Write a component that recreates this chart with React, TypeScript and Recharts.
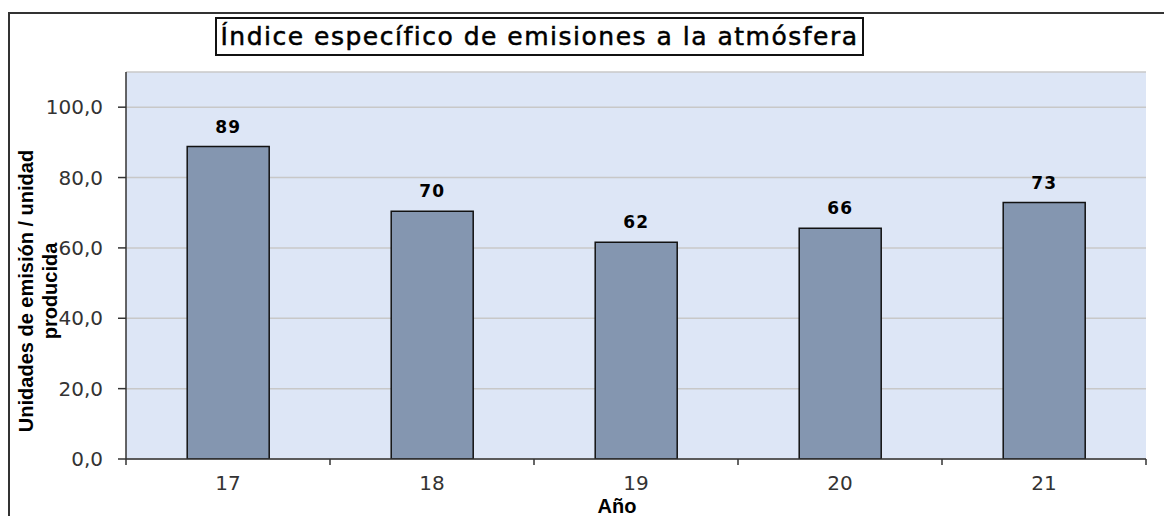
import React from 'react';
import { BarChart, Bar, XAxis, YAxis, CartesianGrid, LabelList } from 'recharts';

const years = ['17', '18', '19', '20', '21'];
const emissionIndex = [88.8, 70.4, 61.6, 65.6, 72.9];
const yTicks = [0, 20, 40, 60, 80, 100];

const chartTitle = 'Índice específico de emisiones a la atmósfera';
const yTitleLines = ['Unidades de emisión / unidad', 'producida'];
const xTitle = 'Año';

const W = 1164;
const H = 516;
const PLOT_LEFT = 126;
const PLOT_RIGHT = 1146;
const PLOT_TOP = 72;
const PLOT_BOTTOM = 459;
const Y_AXIS_W = 60;
const X_AXIS_H = 40;

const data = years.map((year, i) => ({ year, value: emissionIndex[i] }));

const axisColor = '#333';
const tickFont = { fill: '#333', fontSize: 20, fontFamily: 'DejaVu Sans' };

// Excel style: tick marks sit between categories, labels in the middle
const XTick = ({ x, payload, index }: any) => {
  const band = (PLOT_RIGHT - PLOT_LEFT) / years.length;
  return (
    <g>
      {index === 0 && (
        <line x1={x - band / 2} y1={PLOT_BOTTOM} x2={x - band / 2} y2={PLOT_BOTTOM + 6} stroke={axisColor} strokeWidth={1.5} />
      )}
      <line x1={x + band / 2} y1={PLOT_BOTTOM} x2={x + band / 2} y2={PLOT_BOTTOM + 6} stroke={axisColor} strokeWidth={1.5} />
      <text x={x} y={PLOT_BOTTOM + 31} textAnchor="middle" {...tickFont}>
        {payload.value}
      </text>
    </g>
  );
};

const App: React.FC = () => {
  return (
    <div style={{ position: 'absolute', left: 0, top: 0, width: W, height: H, overflow: 'hidden', background: '#fff' }}>
      <div
        style={{
          position: 'absolute',
          left: 8,
          top: 12,
          width: 1200,
          height: 600,
          border: '2px solid #333',
        }}
      />
      <div style={{ position: 'absolute', left: 0, top: 0 }}>
        <BarChart
          width={W}
          height={H}
          data={data}
          barCategoryGap="30%"
          margin={{ top: PLOT_TOP, right: W - PLOT_RIGHT, left: PLOT_LEFT - Y_AXIS_W, bottom: H - PLOT_BOTTOM - X_AXIS_H }}
        >
          <CartesianGrid vertical={false} fill="#dde6f6" stroke="#c8c8c8" strokeWidth={1.5} />
          <XAxis
            dataKey="year"
            height={X_AXIS_H}
            axisLine={{ stroke: axisColor, strokeWidth: 1.5 }}
            tickLine={false}
            tick={<XTick />}
            interval={0}
          />
          <YAxis
            width={Y_AXIS_W}
            domain={[0, 110]}
            ticks={yTicks}
            allowDataOverflow
            axisLine={{ stroke: axisColor, strokeWidth: 1.5 }}
            tickLine={{ stroke: axisColor, strokeWidth: 1.5 }}
            tickSize={8}
            tickMargin={15}
            tick={tickFont}
            tickFormatter={(v: number) => v.toFixed(1).replace('.', ',')}
          />
          <Bar dataKey="value" fill="#8496b0" stroke="#111" strokeWidth={1.5} isAnimationActive={false}>
            <LabelList
              dataKey="value"
              position="top"
              offset={14}
              formatter={(v: any) => Math.round(Number(v))}
              style={{ fontFamily: 'DejaVu Sans', fontWeight: 'bold', fontSize: 17, fill: '#000', letterSpacing: 1 }}
            />
          </Bar>
        </BarChart>
      </div>

      <div
        style={{
          position: 'absolute',
          left: 215,
          top: 17,
          width: 649,
          height: 39,
          boxSizing: 'border-box',
          border: '2px solid #111',
          background: '#fff',
          fontFamily: 'DejaVu Sans',
          fontSize: 25,
          letterSpacing: 1.5,
          WebkitTextStroke: '0.5px #000',
          lineHeight: '35px',
          textAlign: 'center',
          color: '#000',
          whiteSpace: 'nowrap',
        }}
      >
        {chartTitle}
      </div>

      <svg width={W} height={H} style={{ position: 'absolute', left: 0, top: 0, pointerEvents: 'none' }}>
        <text
          transform="translate(33 291) rotate(-90)"
          textAnchor="middle"
          fontFamily="Liberation Sans"
          fontWeight="bold"
          fontSize={20}
          fill="#000"
        >
          {yTitleLines[0]}
        </text>
        <text
          transform="translate(57 291) rotate(-90)"
          textAnchor="middle"
          fontFamily="Liberation Sans"
          fontWeight="bold"
          fontSize={20}
          fill="#000"
        >
          {yTitleLines[1]}
        </text>
        <text x={617} y={513} textAnchor="middle" fontFamily="Liberation Sans" fontWeight="bold" fontSize={20} fill="#000">
          {xTitle}
        </text>
      </svg>
    </div>
  );
};

export default App;
